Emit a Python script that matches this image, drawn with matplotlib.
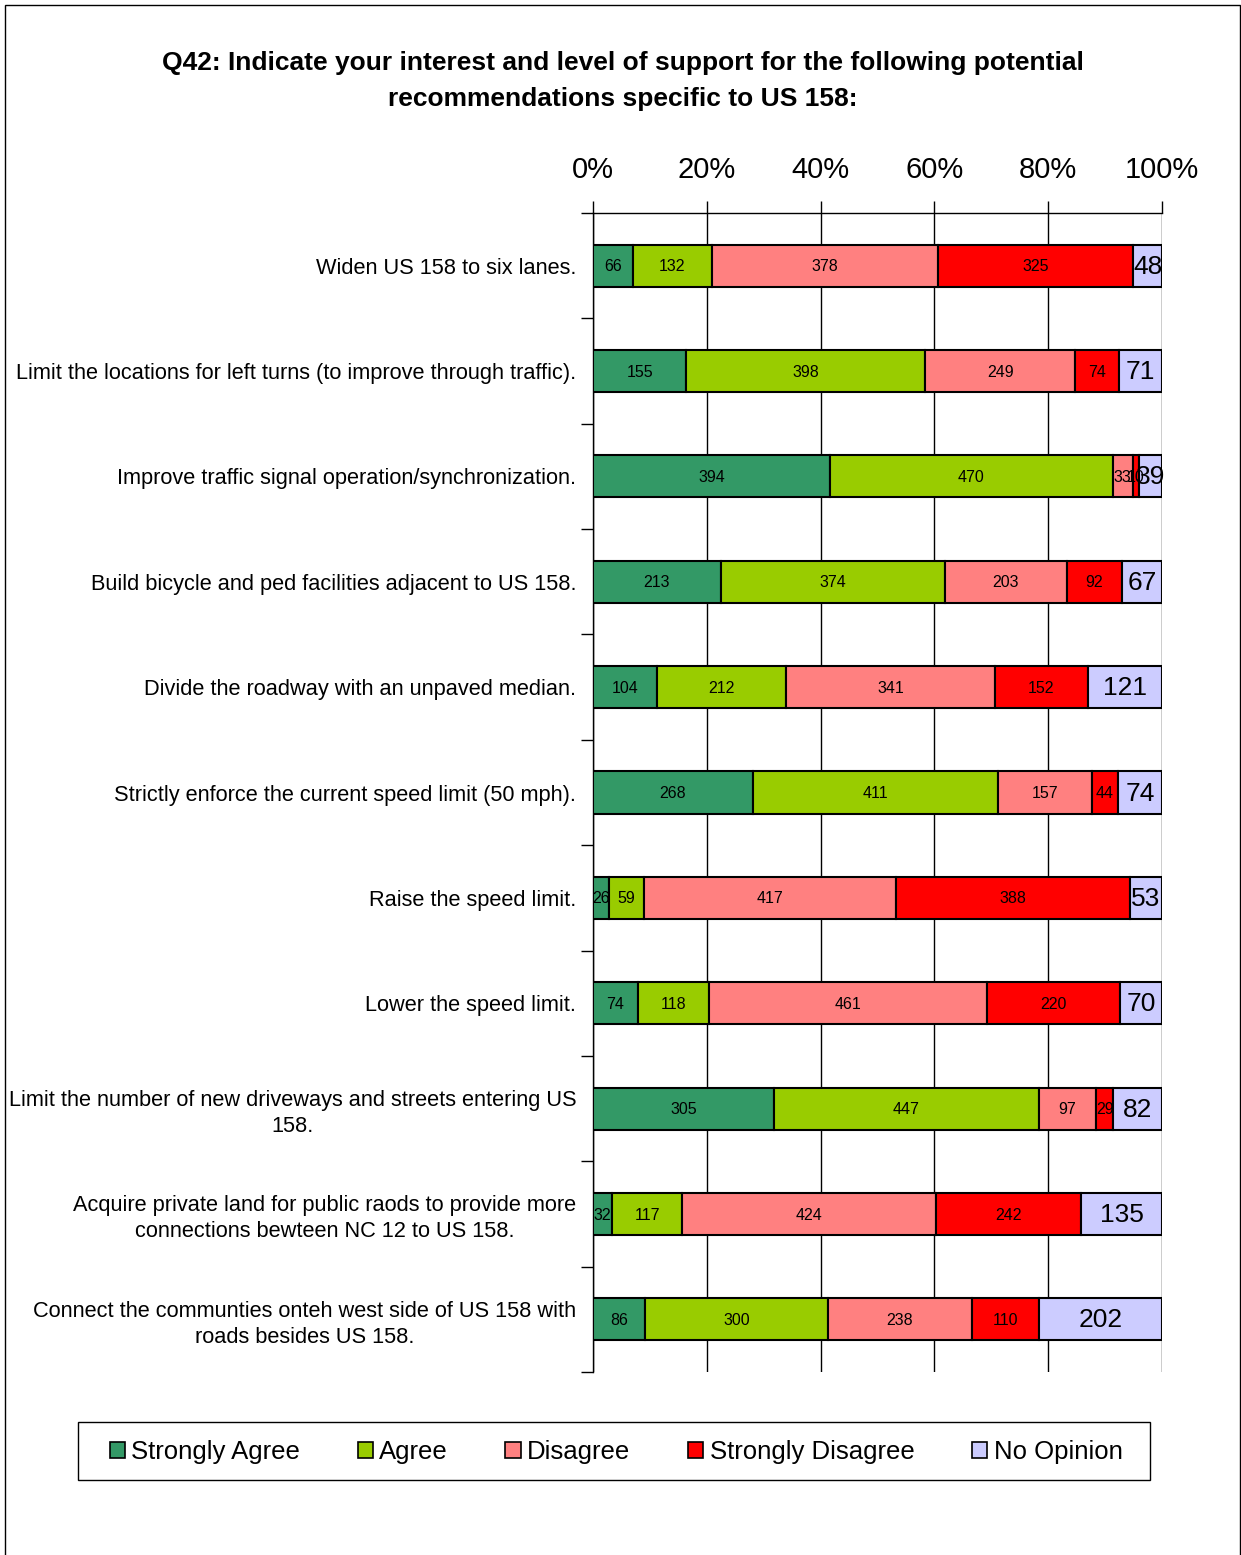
import matplotlib
matplotlib.use('Agg')
import matplotlib.pyplot as plt
import matplotlib.patches as mpatches
import numpy as np

plt.rcParams['font.family'] = ['Liberation Sans', 'DejaVu Sans']

questions = ['Widen US 158 to six lanes.',
             'Limit the locations for left turns (to improve through traffic).',
             'Improve traffic signal operation/synchronization.',
             'Build bicycle and ped facilities adjacent to US 158.',
             'Divide the roadway with an unpaved median.',
             'Strictly enforce the current speed limit (50 mph).',
             'Raise the speed limit.',
             'Lower the speed limit.',
             'Limit the number of new driveways and streets entering US\n158.',
             'Acquire private land for public raods to provide more\nconnections bewteen NC 12 to US 158.',
             'Connect the communties onteh west side of US 158 with\nroads besides US 158.']

strongly_agree = [66, 155, 394, 213, 104, 268, 26, 74, 305, 32, 86]
agree = [132, 398, 470, 374, 212, 411, 59, 118, 447, 117, 300]
disagree = [378, 249, 33, 203, 341, 157, 417, 461, 97, 424, 238]
strongly_disagree = [325, 74, 10, 92, 152, 44, 388, 220, 29, 242, 110]
no_opinion = [48, 71, 39, 67, 121, 74, 53, 70, 82, 135, 202]

series_names = ['Strongly Agree', 'Agree', 'Disagree', 'Strongly Disagree', 'No Opinion']
colors = ['#339966', '#99CC00', '#FF8080', '#FF0000', '#CCCCFF']

fig = plt.figure(figsize=(12.41, 15.55), dpi=100)
ax = fig.add_axes([593/1241, 1-1372/1555, (1162-593)/1241, (1372-213)/1555])

data = np.array([strongly_agree, agree, disagree, strongly_disagree, no_opinion], dtype=float)
totals = data.sum(axis=0)
pct = data / totals
y = np.arange(len(questions))

left = np.zeros(len(questions))
for i in range(5):
    ax.barh(y, pct[i], left=left, height=0.4, color=colors[i], edgecolor='black',
            linewidth=1.5, label=series_names[i], zorder=3)
    for j in range(len(questions)):
        cx = left[j] + pct[i][j] / 2
        fs = 19 if i == 4 else 11.5
        ax.text(cx, y[j] + 0.01, '%d' % data[i][j], ha='center', va='center', fontsize=fs,
                color='black', zorder=4)
    left += pct[i]

ax.set_xlim(0, 1)
ax.set_ylim(len(questions) - 0.5, -0.5)
ax.xaxis.tick_top()
ax.set_xticks(np.arange(0, 1.01, 0.2))
ax.set_xticklabels(['0%', '20%', '40%', '60%', '80%', '100%'], fontsize=21)
ax.tick_params(axis='x', length=9, width=1, pad=12, color='black')
ax.grid(axis='x', color='black', linewidth=1, zorder=0)

ax.set_yticks(np.arange(-0.5, len(questions), 1.0))
ax.set_yticklabels([])
ax.set_yticks(y, minor=True)
ax.set_yticklabels(questions, minor=True, fontsize=15.7, ha='right',
                   multialignment='center', linespacing=1.3)
ax.tick_params(axis='y', which='major', length=9, width=1, direction='out')
ax.tick_params(axis='y', which='minor', length=0, pad=12)

for s in ['right', 'bottom']:
    ax.spines[s].set_visible(False)
ax.spines['left'].set_linewidth(1)
ax.spines['top'].set_linewidth(1)

fig.text(0.502, 1-81/1555, 'Q42: Indicate your interest and level of support for the following potential\nrecommendations specific to US 158:',
         ha='center', va='center', fontsize=19, fontweight='bold', linespacing=1.65)

handles = [mpatches.Patch(facecolor=c, edgecolor='black', linewidth=1.2) for c in colors]
leg = fig.legend(handles, series_names, loc='center', bbox_to_anchor=(616/1241, 1-1452/1555),
                 ncol=5, fontsize=18.5, frameon=False,
                 handlelength=0.6, handleheight=0.6, handletextpad=0.25, columnspacing=2.23)

fig.patches.append(mpatches.Rectangle((78/1241, 1-1480/1555), (1150-78)/1241, 58/1555,
                                      transform=fig.transFigure, fill=False,
                                      edgecolor='black', linewidth=1))
fig.patches.append(mpatches.Rectangle((5/1241, -0.1), 1235/1241, 1.1 - 5/1555, transform=fig.transFigure,
                                      fill=False, edgecolor='black', linewidth=1))

fig.savefig('out.png', dpi=100)
